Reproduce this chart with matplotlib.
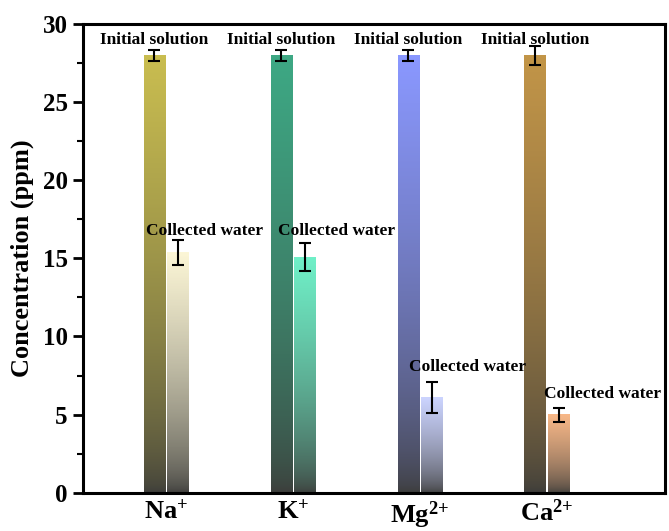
import numpy as np
import matplotlib
matplotlib.use("Agg")
import matplotlib.pyplot as plt
from matplotlib.colors import LinearSegmentedColormap

plt.rcParams["font.family"] = "Liberation Serif"
plt.rcParams["font.weight"] = "bold"
plt.rcParams["mathtext.fontset"] = "custom"
plt.rcParams["mathtext.rm"] = "Liberation Serif:bold"
plt.rcParams["mathtext.it"] = "Liberation Serif:bold"
plt.rcParams["mathtext.bf"] = "Liberation Serif:bold"

# data
ions = [r"Na$^{\text{+}}$", r"K$^{\text{+}}$", r"Mg$^{\text{2+}}$", r"Ca$^{\text{2+}}$"]
initial = [28.0, 28.0, 28.0, 28.0]
initial_err = [0.35, 0.35, 0.35, 0.6]
collected = [15.4, 15.1, 6.1, 5.0]
collected_err = [0.8, 0.9, 1.0, 0.45]

initial_colors = ["#c9bd50", "#3ea884", "#8a98ff", "#c29548"]
collected_colors = ["#fcf6d6", "#70f0c8", "#ccd4ff", "#f8b888"]
bottom_color = "#3c3c3a"

# label positions (data coords)
coll_label_x = [0.84, 1.88, 2.91, 3.98]
coll_label_y = [16.75, 16.75, 8.05, 6.35]

x = np.arange(1, len(ions) + 1)
w = 0.17
off = 0.092

fig = plt.figure(figsize=(6.69, 5.31), dpi=100)
ax = fig.add_axes([0.124, 0.072, 0.870, 0.883])


def grad_bar(ax, xc, h, top):
    cmap = LinearSegmentedColormap.from_list("g", [bottom_color, top])
    # top colour holds longer, darkens toward the base
    g = (np.linspace(0, 1, 256) ** 0.6).reshape(-1, 1)
    ax.imshow(g, cmap=cmap, origin="lower", aspect="auto", vmin=0, vmax=1,
              extent=[xc - w / 2, xc + w / 2, 0, h], zorder=2)


for i in range(len(ions)):
    grad_bar(ax, x[i] - off, initial[i], initial_colors[i])
    grad_bar(ax, x[i] + off, collected[i], collected_colors[i])

ax.errorbar(x - off, initial, yerr=initial_err, fmt="none", ecolor="black",
            elinewidth=1.5, capsize=4, capthick=1.5, zorder=3)
ax.errorbar(x + off, collected, yerr=collected_err, fmt="none", ecolor="black",
            elinewidth=1.5, capsize=4, capthick=1.5, zorder=3)

for i in range(len(ions)):
    ax.text(x[i] - off, 29.0, "Initial solution", ha="center", va="center",
            fontsize=12.5, fontweight="bold", zorder=4)
    ax.text(coll_label_x[i], coll_label_y[i], "Collected water", ha="left", va="center",
            fontsize=12.5, fontweight="bold", zorder=4)

ax.set_xlim(0.345, 4.93)
ax.set_ylim(0, 30)
ax.set_xticks(x)
ax.set_xticklabels(ions, fontsize=19, fontweight="bold")
ax.tick_params(axis="x", length=0, pad=5)
ax.set_yticks([0, 5, 10, 15, 20, 25, 30])
ax.set_yticks(np.arange(2.5, 30, 5), minor=True)
ax.tick_params(axis="y", which="major", direction="out", length=7, width=2,
               labelsize=18, pad=4)
ax.tick_params(axis="y", which="minor", direction="out", length=4, width=1.5)
for lab in ax.get_yticklabels():
    lab.set_fontweight("bold")
ax.set_ylabel("Concentration (ppm)", fontsize=19, fontweight="bold", labelpad=6)

for s in ax.spines.values():
    s.set_linewidth(2.2)

plt.savefig("out.png", dpi=100)
